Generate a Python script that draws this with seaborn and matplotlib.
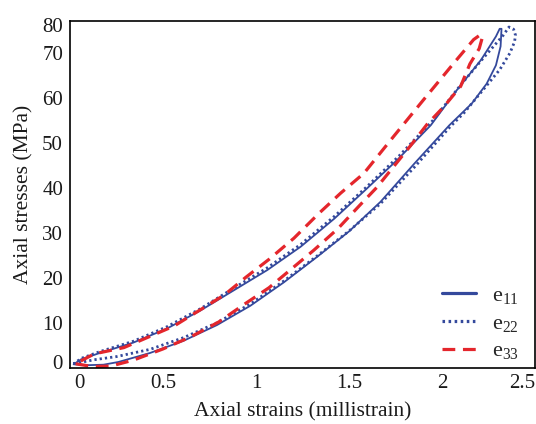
import numpy as np
import pandas as pd
import matplotlib
matplotlib.use("Agg")
import matplotlib.pyplot as plt
import seaborn as sns

# values (strain in millistrain, stress in MPa)
e11_load_strain = [0.02, 0.10, 0.18, 0.26, 0.43, 0.61, 0.79, 0.97, 1.15, 1.33, 1.50,
                   1.67, 1.85, 2.04, 2.16, 2.24, 2.29, 2.315, 2.32]
e11_load_stress = [0.9, 0.7, 0.8, 1.4, 3.4, 6.1, 9.6, 13.9, 19.1, 24.8, 30.4,
                   37.0, 45.4, 54.0, 58.8, 63.2, 67.3, 71.5, 75.4]
e11_unload_strain = [2.31, 2.29, 2.21, 2.08, 1.94, 1.76, 1.58, 1.42, 1.24, 1.06, 0.88,
                     0.70, 0.52, 0.34, 0.16, 0.06, 0.02]
e11_unload_stress = [75.4, 73.7, 68.5, 61.8, 54.0, 46.3, 39.3, 33.2, 27.0, 21.8, 17.3,
                     12.8, 8.8, 5.7, 3.4, 2.0, 0.9]

e22_load_strain = [0.02, 0.13, 0.25, 0.43, 0.61, 0.79, 0.97, 1.15, 1.33, 1.50, 1.67,
                   1.85, 2.045, 2.12, 2.22, 2.31, 2.365, 2.39, 2.395, 2.385, 2.36]
e22_load_stress = [1.0, 1.9, 2.6, 4.2, 6.8, 10.1, 14.3, 19.4, 25.0, 30.5, 36.6,
                   44.6, 53.7, 56.8, 61.8, 66.3, 70.0, 72.5, 74.0, 75.3, 75.8]
e22_unload_strain = [2.33, 2.22, 2.10, 1.95, 1.77, 1.59, 1.42, 1.24, 1.06, 0.88,
                     0.70, 0.52, 0.34, 0.16, 0.06, 0.02]
e22_unload_stress = [74.0, 68.8, 62.9, 55.0, 47.2, 40.1, 33.7, 27.5, 22.3, 17.8,
                     13.2, 9.2, 6.0, 3.7, 2.2, 1.0]

e33_load_strain = [0.03, 0.12, 0.22, 0.34, 0.50, 0.65, 0.80, 0.94, 1.07, 1.31, 1.44,
                   1.56, 1.65, 1.83, 1.92, 2.01, 2.10, 2.15, 2.20, 2.215]
e33_load_stress = [1.0, 0.4, 0.5, 1.8, 4.3, 7.0, 10.3, 14.3, 17.9, 26.2, 31.0,
                   36.3, 40.2, 49.4, 54.2, 58.1, 62.6, 67.6, 71.0, 73.2]
e33_unload_strain = [2.21, 2.17, 2.07, 1.99, 1.90, 1.74, 1.58, 1.455, 1.338, 1.204,
                     1.07, 0.945, 0.83, 0.56, 0.29, 0.13, 0.03]
e33_unload_stress = [74.2, 73.0, 68.1, 64.1, 59.6, 51.5, 43.3, 38.9, 34.4, 28.9,
                     24.2, 20.2, 16.3, 9.4, 4.6, 3.2, 1.0]

x_tick_labels = ['0', '0.5', '1', '1.5', '2', '2.5']
y_tick_labels = ['0', '10', '20', '30', '40', '50', '60', '70', '80']


def loop_frame(load_x, load_y, unload_x, unload_y):
    """Join loading and unloading branches into one closed path."""
    x = list(load_x) + list(unload_x)
    y = list(load_y) + list(unload_y)
    return pd.DataFrame({'strain': x, 'stress': y, 'order': range(len(x))})


sns.set_theme(style='white')
plt.rcParams['font.family'] = ['Liberation Serif', 'DejaVu Serif']
plt.rcParams['mathtext.fontset'] = 'custom'
plt.rcParams['mathtext.rm'] = 'Liberation Serif'
plt.rcParams['mathtext.it'] = 'Liberation Serif'
plt.rcParams['mathtext.default'] = 'regular'

fig = plt.figure(figsize=(5.36, 4.24), dpi=100)
ax = fig.add_axes([70 / 536, 1 - 368.3 / 424, 465 / 536, 347.6 / 424])

blue = '#34499c'
red = '#e4262c'

df11 = loop_frame(e11_load_strain, e11_load_stress, e11_unload_strain, e11_unload_stress)
df22 = loop_frame(e22_load_strain, e22_load_stress, e22_unload_strain, e22_unload_stress)
df33 = loop_frame(e33_load_strain, e33_load_stress, e33_unload_strain, e33_unload_stress)

sns.lineplot(data=df11, x='strain', y='stress', sort=False, estimator=None,
             color=blue, linewidth=1.3, label='e$_{11}$', ax=ax)
sns.lineplot(data=df22, x='strain', y='stress', sort=False, estimator=None,
             color=blue, linewidth=2.0, label='e$_{22}$', ax=ax)
sns.lineplot(data=df33, x='strain', y='stress', sort=False, estimator=None,
             color=red, linewidth=2.3, label='e$_{33}$', ax=ax)
ax.lines[1].set_linestyle((0, (0.8, 1.1)))
ax.lines[2].set_linestyle((0, (4, 2.4)))

ax.set_xlim(0.0, 2.5)
ax.set_ylim(0.0, 77.2)
# end labels sit inside the frame, as in the original figure
ax.set_xticks([0.05, 0.5, 1, 1.5, 2, 2.43])
ax.set_xticklabels(x_tick_labels)
ax.set_yticks([1.5, 10, 20, 30, 40, 50, 60, 70, 76.2])
ax.set_yticklabels(y_tick_labels)
ax.tick_params(axis='both', length=0, labelsize=15, colors='#1a1a1a')
ax.tick_params(axis='x', pad=4)
ax.tick_params(axis='y', pad=5)

for sp in ax.spines.values():
    sp.set_color('black')
    sp.set_linewidth(1.2)

ax.set_xlabel('Axial strains (millistrain)', fontsize=15.5, color='#1a1a1a', labelpad=7)
ax.set_ylabel('Axial stresses (MPa)', fontsize=15.5, color='#1a1a1a', labelpad=6)

leg = ax.legend(loc='lower right', bbox_to_anchor=(1.0, -0.025), frameon=False, fontsize=16,
                handlelength=1.5, labelspacing=0.32, handletextpad=0.75, borderaxespad=0.3)
for line in leg.get_lines():
    line.set_linewidth(2.3)

fig.savefig('out.png', dpi=100)
